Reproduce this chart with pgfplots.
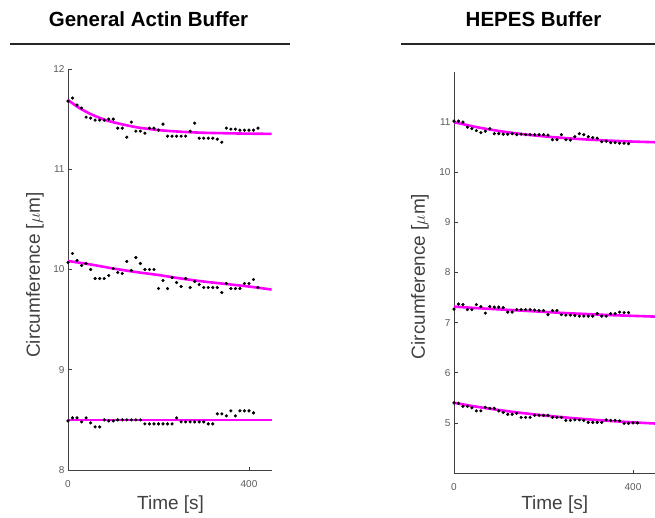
\documentclass[border=0pt]{standalone}
\usepackage{fontspec}
\setmainfont{Liberation Sans}
\usepackage{pgfplots}
\pgfplotsset{compat=1.18}
\definecolor{axgray}{HTML}{404040}
\definecolor{tickgray}{HTML}{5A5A5A}
\definecolor{fitmag}{HTML}{FF00FF}
\pgfplotsset{
  panel/.style={
    anchor=south west,
    scale only axis,
    height=401pt,
    xmin=0, xmax=450,
    axis x line*=bottom, axis y line*=left,
    axis line style={-, axgray, line width=0.8pt},
    every outer x axis line/.append style={-},
    every outer y axis line/.append style={-},
    tick align=inside,
    major tick length=3.5pt,
    tick style={axgray, line width=0.6pt},
    xtick={0,400},
    ticklabel style={font=\fontsize{10}{12}\selectfont, text=tickgray},
    xticklabel style={yshift=-7pt},
    /pgf/number format/assume math mode=true,
    label style={font=\fontsize{19}{22}\selectfont, text=axgray},
    xlabel={Time [s]},
    ylabel={Circumference [$\mu$m]},
    clip=false,
  },
  dots/.style={only marks, mark=*, mark size=1.4pt, black},
  fit/.style={no marks, fitmag, line width=2.6pt, smooth},
}
\begin{document}
\begin{tikzpicture}
\useasboundingbox (0pt,0pt) rectangle (655pt,517pt);
% titles and rules
\node[font=\fontsize{20.5}{24}\selectfont\bfseries] at (148.5pt,498pt) {General Actin Buffer};
\node[font=\fontsize{20.5}{24}\selectfont\bfseries] at (533.5pt,498pt) {HEPES Buffer};
\draw[line width=2pt, black!85] (10pt,473pt) -- (290pt,473pt);
\draw[line width=2pt, black!85] (401pt,473pt) -- (655pt,473pt);

\begin{axis}[panel, at={(68pt,47pt)}, width=203.6pt,
  ymin=8, ymax=12, ytick={8,9,10,11,12},
  xlabel style={at={(axis description cs:0.504,-0.087)}, anchor=center},
  ylabel style={at={(axis description cs:-0.162,0.486)}, anchor=center},
]
\addplot[fit] coordinates {(0,11.69)(25,11.611)(50,11.551)(75,11.504)(100,11.469)(150,11.420)(200,11.391)(250,11.374)(300,11.364)(350,11.359)(400,11.355)(450,11.353)};
\addplot[fit] coordinates {(0,10.085)(50,10.05)(100,10.01)(150,9.975)(200,9.945)(250,9.91)(300,9.88)(350,9.855)(400,9.83)(450,9.80)};
\addplot[fit] coordinates {(0,8.50)(450,8.50)};
\addplot[dots] coordinates {(0,11.68)(10,11.71)(20,11.64)(30,11.61)(40,11.52)(50,11.51)(60,11.49)(70,11.49)(80,11.49)(90,11.50)(100,11.50)(110,11.41)(120,11.41)(130,11.32)(140,11.47)(150,11.38)(160,11.38)(170,11.36)(180,11.41)(190,11.41)(200,11.39)(210,11.45)(220,11.33)(230,11.33)(240,11.33)(250,11.33)(260,11.33)(270,11.38)(280,11.46)(290,11.31)(300,11.31)(310,11.31)(320,11.31)(330,11.30)(340,11.27)(350,11.41)(360,11.40)(370,11.40)(380,11.39)(390,11.39)(400,11.39)(410,11.39)(420,11.41)};
\addplot[dots] coordinates {(0,10.07)(10,10.16)(20,10.09)(30,10.04)(40,10.06)(50,10.00)(60,9.91)(70,9.91)(80,9.91)(90,9.94)(100,10.01)(110,9.97)(120,9.96)(130,10.08)(140,9.99)(150,10.12)(160,10.06)(170,10.00)(180,10.00)(190,10.00)(200,9.81)(210,9.89)(220,9.81)(230,9.92)(240,9.87)(250,9.83)(260,9.91)(270,9.82)(280,9.88)(290,9.85)(300,9.82)(310,9.82)(320,9.82)(330,9.82)(340,9.77)(350,9.86)(360,9.81)(370,9.81)(380,9.81)(390,9.86)(400,9.86)(410,9.90)(420,9.82)};
\addplot[dots] coordinates {(0,8.49)(10,8.52)(20,8.52)(30,8.48)(40,8.52)(50,8.47)(60,8.43)(70,8.43)(80,8.50)(90,8.49)(100,8.49)(110,8.50)(120,8.50)(130,8.50)(140,8.50)(150,8.50)(160,8.50)(170,8.46)(180,8.46)(190,8.46)(200,8.46)(210,8.46)(220,8.46)(230,8.46)(240,8.52)(250,8.48)(260,8.48)(270,8.48)(280,8.48)(290,8.48)(300,8.48)(310,8.46)(320,8.46)(330,8.56)(340,8.56)(350,8.54)(360,8.59)(370,8.54)(380,8.59)(390,8.59)(400,8.59)(410,8.57)};
\end{axis}

\begin{axis}[panel, at={(454pt,44pt)}, width=201.4pt,
  ymin=4, ymax=12, ytick={5,6,7,8,9,10,11},
  xlabel style={at={(axis description cs:0.50,-0.08)}, anchor=center},
  ylabel style={at={(axis description cs:-0.169,0.49)}, anchor=center},
]
\addplot[fit] coordinates {(0,11.0)(50,10.901)(100,10.824)(150,10.764)(200,10.717)(250,10.681)(300,10.652)(350,10.630)(400,10.612)(450,10.599)};
\addplot[fit] coordinates {(0,7.32)(50,7.29)(100,7.265)(150,7.24)(200,7.215)(250,7.19)(300,7.17)(350,7.15)(400,7.135)(450,7.12)};
\addplot[fit] coordinates {(0,5.40)(50,5.323)(100,5.257)(150,5.199)(200,5.150)(250,5.107)(300,5.070)(350,5.038)(400,5.011)(450,4.987)};
\addplot[dots] coordinates {(0,11.02)(10,11.02)(20,11.00)(30,10.90)(40,10.87)(50,10.83)(60,10.79)(70,10.82)(80,10.87)(90,10.77)(100,10.77)(110,10.76)(120,10.76)(130,10.77)(140,10.75)(150,10.76)(160,10.75)(170,10.75)(180,10.75)(190,10.75)(200,10.75)(210,10.74)(220,10.65)(230,10.65)(240,10.75)(250,10.65)(260,10.64)(270,10.71)(280,10.77)(290,10.75)(300,10.71)(310,10.69)(320,10.68)(330,10.61)(340,10.62)(350,10.59)(360,10.59)(370,10.58)(380,10.58)(390,10.57)};
\addplot[dots] coordinates {(0,7.27)(10,7.37)(20,7.36)(30,7.26)(40,7.26)(50,7.36)(60,7.32)(70,7.19)(80,7.32)(90,7.31)(100,7.31)(110,7.30)(120,7.21)(130,7.21)(140,7.26)(150,7.26)(160,7.26)(170,7.26)(180,7.25)(190,7.24)(200,7.24)(210,7.16)(220,7.24)(230,7.24)(240,7.16)(250,7.15)(260,7.15)(270,7.14)(280,7.13)(290,7.13)(300,7.13)(310,7.13)(320,7.18)(330,7.13)(340,7.13)(350,7.18)(360,7.18)(370,7.21)(380,7.20)(390,7.20)};
\addplot[dots] coordinates {(0,5.40)(10,5.39)(20,5.33)(30,5.33)(40,5.30)(50,5.24)(60,5.24)(70,5.31)(80,5.29)(90,5.29)(100,5.24)(110,5.21)(120,5.17)(130,5.17)(140,5.19)(150,5.11)(160,5.11)(170,5.11)(180,5.15)(190,5.15)(200,5.15)(210,5.15)(220,5.11)(230,5.11)(240,5.11)(250,5.05)(260,5.05)(270,5.06)(280,5.06)(290,5.05)(300,5.01)(310,5.01)(320,5.01)(330,5.01)(340,5.06)(350,5.05)(360,5.05)(370,5.04)(380,4.99)(390,4.99)(400,5.00)(410,5.00)};
\end{axis}
\end{tikzpicture}
\end{document}
